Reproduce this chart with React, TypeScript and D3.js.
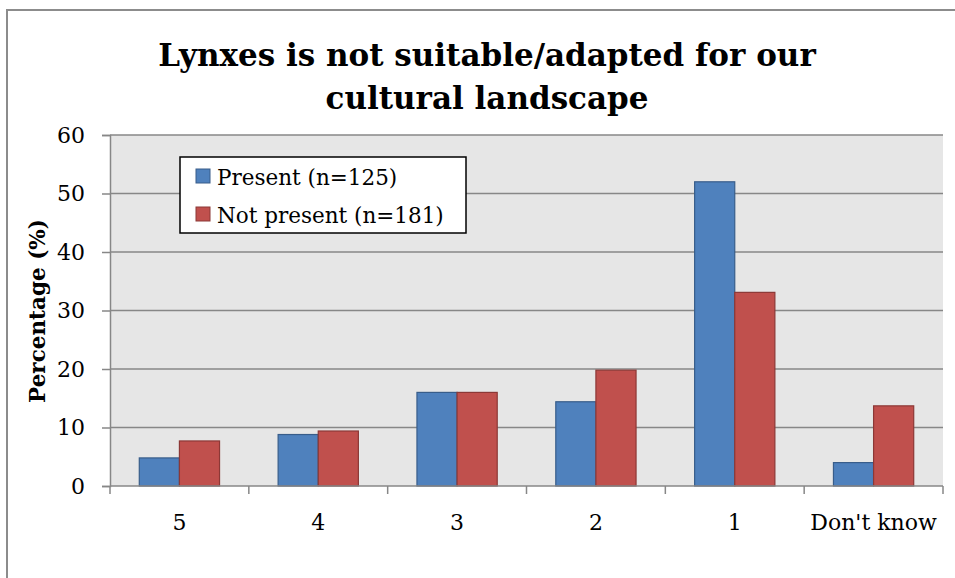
import React, { useEffect, useRef } from 'react';
import * as d3 from 'd3';

const categories = ['5', '4', '3', '2', '1', "Don't know"];
const presentValues = [4.8, 8.8, 16.0, 14.4, 52.0, 4.0];
const notPresentValues = [7.7, 9.4, 16.0, 19.8, 33.1, 13.7];
const seriesNames = ['Present (n=125)', 'Not present (n=181)'];
const yTicks = [0, 10, 20, 30, 40, 50, 60];
const titleLines = ['Lynxes is not suitable/adapted for our', 'cultural landscape'];

const COLORS = ['#4f81bd', '#c0504d'];
const STROKES = ['#385d8a', '#8c3836'];
const FONT = "'DejaVu Serif', 'Liberation Serif', serif";

const width = 955;
const height = 578;
const margin = { top: 135, right: 12, bottom: 92, left: 110 };

export default function App() {
  const svgRef = useRef<SVGSVGElement>(null);

  useEffect(() => {
    if (!svgRef.current) return;
    const svg = d3.select(svgRef.current);
    svg.selectAll('*').remove();

    const innerWidth = width - margin.left - margin.right;
    const innerHeight = height - margin.top - margin.bottom;

    // chart frame
    svg.append('rect')
      .attr('x', 7).attr('y', 10)
      .attr('width', 960).attr('height', 600)
      .attr('fill', 'white')
      .attr('stroke', '#8c8c8c')
      .attr('stroke-width', 2);

    // title
    svg.append('text')
      .attr('text-anchor', 'middle')
      .attr('font-family', FONT).attr('font-weight', 'bold')
      .attr('font-size', 31).attr('fill', '#000')
      .selectAll('tspan')
      .data(titleLines)
      .join('tspan')
      .attr('x', 487)
      .attr('y', (_, i) => 66 + i * 43)
      .text(d => d);

    const x0 = d3.scaleBand().domain(categories).range([0, innerWidth]).paddingInner(0).paddingOuter(0);
    const x1 = d3.scaleBand().domain(['0', '1']).range([0, x0.bandwidth()]).paddingInner(0).paddingOuter(0.73);
    const y = d3.scaleLinear().domain([0, 60]).range([innerHeight, 0]);

    const g = svg.append('g').attr('transform', `translate(${margin.left},${margin.top})`);

    g.append('rect')
      .attr('width', innerWidth).attr('height', innerHeight)
      .attr('fill', '#e6e6e6');

    // gridlines
    g.append('g')
      .selectAll('line')
      .data(yTicks.filter(t => t > 0))
      .join('line')
      .attr('x1', 0).attr('x2', innerWidth)
      .attr('y1', d => y(d)).attr('y2', d => y(d))
      .attr('stroke', '#878787').attr('stroke-width', 1.5);

    // bars
    const series = [presentValues, notPresentValues];
    series.forEach((vals, si) => {
      g.append('g')
        .selectAll('rect')
        .data(vals)
        .join('rect')
        .attr('x', (_, i) => (x0(categories[i]) ?? 0) + (x1(String(si)) ?? 0))
        .attr('y', d => y(d))
        .attr('width', x1.bandwidth())
        .attr('height', d => innerHeight - y(d))
        .attr('fill', COLORS[si])
        .attr('stroke', STROKES[si])
        .attr('stroke-width', 1.2);
    });

    // y axis
    const yAxis = g.append('g')
      .call(d3.axisLeft(y).tickValues(yTicks).tickSize(8).tickPadding(17).tickFormat(d3.format('d')));
    yAxis.select('.domain').attr('stroke', '#878787').attr('stroke-width', 1.5);
    yAxis.selectAll('.tick line').attr('stroke', '#878787').attr('stroke-width', 1.5);
    yAxis.selectAll('.tick text')
      .attr('font-family', FONT).attr('font-size', 22).attr('fill', '#000');

    // x axis
    const xAxis = g.append('g').attr('transform', `translate(0,${innerHeight})`);
    xAxis.append('line')
      .attr('x1', 0).attr('x2', innerWidth)
      .attr('stroke', '#878787').attr('stroke-width', 1.5);
    const boundaries = d3.range(categories.length + 1).map(i => i * x0.step());
    xAxis.selectAll('line.tick')
      .data(boundaries)
      .join('line')
      .attr('class', 'tick')
      .attr('x1', d => d).attr('x2', d => d)
      .attr('y1', 0).attr('y2', 8)
      .attr('stroke', '#878787').attr('stroke-width', 1.5);
    xAxis.selectAll('text')
      .data(categories)
      .join('text')
      .attr('x', d => (x0(d) ?? 0) + x0.bandwidth() / 2)
      .attr('y', 44)
      .attr('text-anchor', 'middle')
      .attr('font-family', FONT).attr('font-size', 22).attr('fill', '#000')
      .text(d => d);

    // y axis title
    svg.append('text')
      .attr('transform', 'translate(45,311) rotate(-90)')
      .attr('text-anchor', 'middle')
      .attr('font-family', FONT).attr('font-weight', 'bold')
      .attr('font-size', 21.5).attr('fill', '#000')
      .text('Percentage (%)');

    // legend
    const legend = svg.append('g');
    legend.append('rect')
      .attr('x', 180).attr('y', 157)
      .attr('width', 286).attr('height', 76)
      .attr('fill', 'white').attr('stroke', '#000').attr('stroke-width', 1.5);
    seriesNames.forEach((name, i) => {
      legend.append('rect')
        .attr('x', 196).attr('y', 169 + i * 38)
        .attr('width', 14).attr('height', 14)
        .attr('fill', COLORS[i]).attr('stroke', STROKES[i]).attr('stroke-width', 1);
      legend.append('text')
        .attr('x', 217).attr('y', 185 + i * 38)
        .attr('font-family', FONT).attr('font-size', 21.5).attr('fill', '#000')
        .text(name);
    });
  }, []);

  return (
    <svg
      ref={svgRef}
      width={width}
      height={height}
      style={{ position: 'absolute', left: 0, top: 0 }}
    />
  );
}
